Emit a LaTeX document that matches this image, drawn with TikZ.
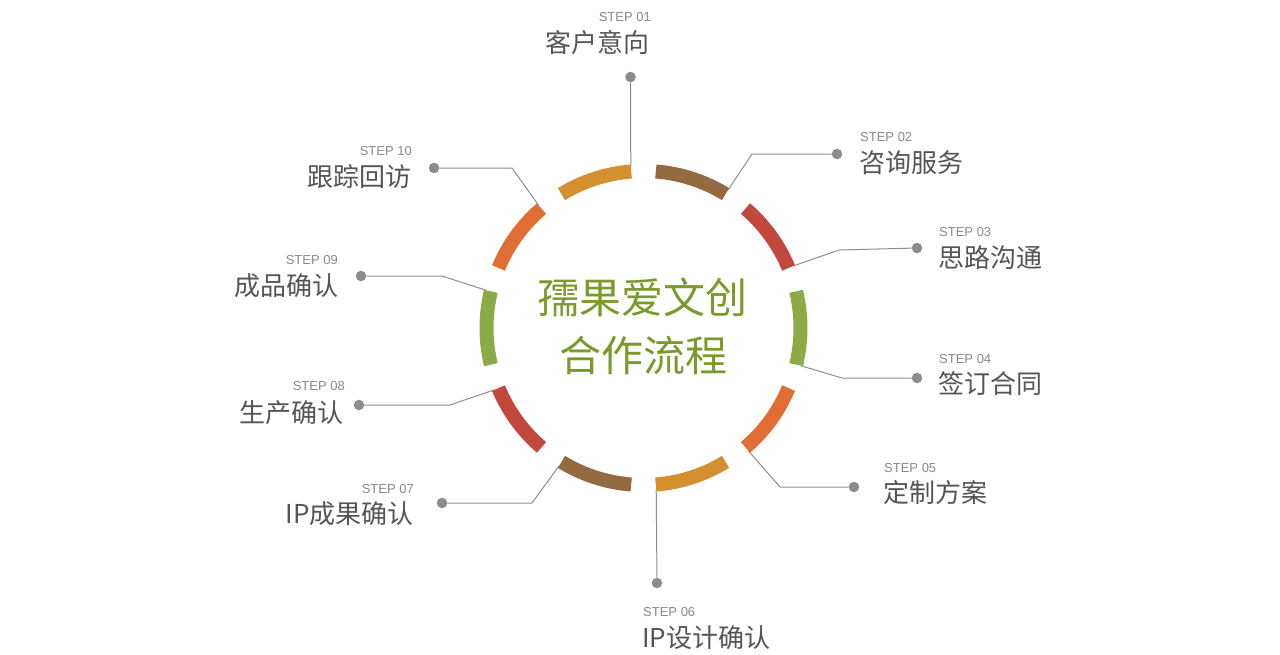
\documentclass[tikz,border=0pt]{standalone}
\usepackage{fontspec}
\setmainfont{Liberation Sans}
\newfontfamily\cjk{Noto Sans CJK SC}
\definecolor{cgold}{HTML}{D4902F}
\definecolor{cbrown}{HTML}{946A40}
\definecolor{cred}{HTML}{C2473C}
\definecolor{cgreen}{HTML}{8CAA46}
\definecolor{corange}{HTML}{E06D34}
\definecolor{ctitle}{HTML}{7A9A2B}
\definecolor{labelgray}{HTML}{555555}
\definecolor{stepgray}{HTML}{8A8A8A}
\definecolor{dotgray}{HTML}{8C8C8C}
\definecolor{linegray}{HTML}{8E8E8E}
\begin{document}
\begin{tikzpicture}[x=1pt,y=-1pt,
  stepno/.style={font=\fontsize{13}{13}\selectfont, text=stepgray, inner sep=0pt},
  steplabel/.style={font=\cjk\fontsize{26}{26}\selectfont, text=labelgray, inner sep=0pt},
  titletext/.style={font=\cjk\fontsize{42}{42}\selectfont, text=ctitle, inner sep=0pt},
  dotnode/.style={circle, fill=dotgray, inner sep=0pt, minimum size=10.5pt},
  conn/.style={draw=linegray, line width=1pt},
  seg/.style={line width=14pt, line cap=butt}]
\useasboundingbox (0,0) rectangle (1280,654);
\fill[white] (0,0) rectangle (1280,654);
\coordinate (c) at (643.5,328);
% segment end coordinates
\foreach \k in {1,...,10}{
  \pgfmathsetmacro\th{108-36*(\k-1)}
  \coordinate (e\k) at ([shift={({-\th+13.5}:162)}]c);
}
% bends
\coordinate (b2) at (752,154);
\coordinate (b3) at (839,250);
\coordinate (b4) at (842,378);
\coordinate (b5) at (780,487);
\coordinate (b7) at (532,503);
\coordinate (b8) at (450,405);
\coordinate (b9) at (442,276);
\coordinate (b10) at (512,168);
% dots
\node[dotnode] (d1) at (630.5,77) {};
\node[dotnode] (d2) at (837,154) {};
\node[dotnode] (d3) at (917,248) {};
\node[dotnode] (d4) at (917,378) {};
\node[dotnode] (d5) at (854,487) {};
\node[dotnode] (d6) at (657,583) {};
\node[dotnode] (d7) at (442,503) {};
\node[dotnode] (d8) at (359,405) {};
\node[dotnode] (d9) at (361,276) {};
\node[dotnode] (d10) at (434,168) {};
% connectors
\draw[conn] (e1) -- (d1);
\draw[conn] (e2) -- (b2) -- (d2);
\draw[conn] (e3) -- (b3) -- (d3);
\draw[conn] (e4) -- (b4) -- (d4);
\draw[conn] (e5) -- (b5) -- (d5);
\draw[conn] (e6) -- (d6);
\draw[conn] (e7) -- (b7) -- (d7);
\draw[conn] (e8) -- (b8) -- (d8);
\draw[conn] (e9) -- (b9) -- (d9);
\draw[conn] (e10) -- (b10) -- (d10);
% arc segments
\foreach \k/\col in {1/cgold,2/cbrown,3/cred,4/cgreen,5/corange,6/cgold,7/cbrown,8/cred,9/cgreen,10/corange}{
  \pgfmathsetmacro\th{108-36*(\k-1)}
  \draw[seg, draw=\col] ([shift={({-\th-13.5}:157)}]c) arc[start angle={-\th-13.5}, end angle={-\th+13.5}, radius=157];
}
% title
\node[titletext, anchor=base] (t1) at (642,313) {孺果爱文创};
\node[titletext, anchor=base] (t2) at (643.5,371) {合作流程};
% labels
\node[stepno, anchor=base east] (s1) at (651,21.7) {STEP 01};
\node[steplabel, anchor=base east] (l1) at (650,52) {客户意向};
\node[stepno, anchor=base west] (s2) at (860,141.7) {STEP 02};
\node[steplabel, anchor=base west] (l2) at (859,172) {咨询服务};
\node[stepno, anchor=base west] (s3) at (939,236.7) {STEP 03};
\node[steplabel, anchor=base west] (l3) at (938,267) {思路沟通};
\node[stepno, anchor=base west] (s4) at (939,363.7) {STEP 04};
\node[steplabel, anchor=base west] (l4) at (938,393) {签订合同};
\node[stepno, anchor=base west] (s5) at (884,472.7) {STEP 05};
\node[steplabel, anchor=base west] (l5) at (883,502) {定制方案};
\node[stepno, anchor=base west] (s6) at (643,616.7) {STEP 06};
\node[steplabel, anchor=base west] (l6) at (642,647) {IP设计确认};
\node[stepno, anchor=base east] (s7) at (414,493.7) {STEP 07};
\node[steplabel, anchor=base east] (l7) at (414,523) {IP成果确认};
\node[stepno, anchor=base east] (s8) at (345,390.7) {STEP 08};
\node[steplabel, anchor=base east] (l8) at (344,422) {生产确认};
\node[stepno, anchor=base east] (s9) at (338,264.7) {STEP 09};
\node[steplabel, anchor=base east] (l9) at (339,295) {成品确认};
\node[stepno, anchor=base east] (s10) at (412,155.7) {STEP 10};
\node[steplabel, anchor=base east] (l10) at (412,186) {跟踪回访};
\end{tikzpicture}
\end{document}
